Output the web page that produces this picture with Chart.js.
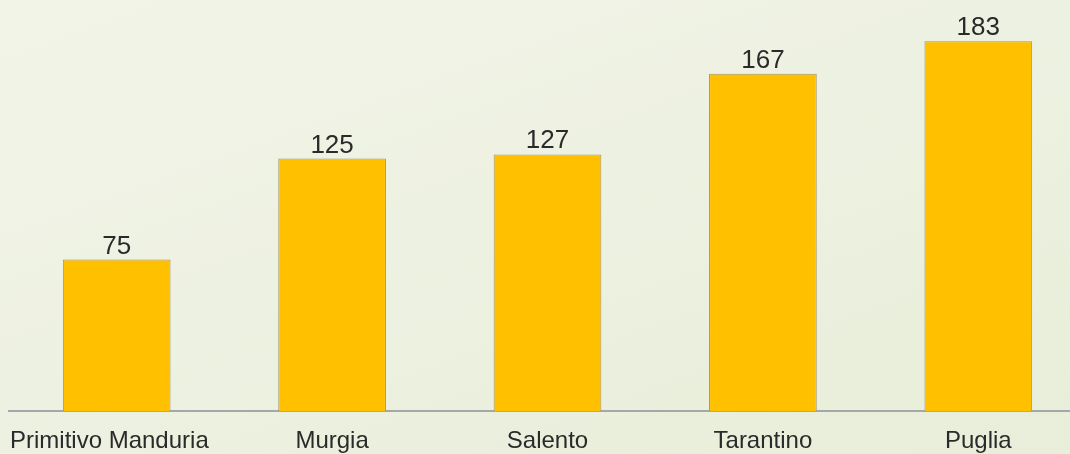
<!DOCTYPE html>
<html>
<head>
<meta charset="utf-8">
<script src="https://cdn.jsdelivr.net/npm/chart.js@4"></script>
<style>
    html, body { margin: 0; padding: 0; overflow: hidden; }
    body {
        width: 1070px; height: 454px;
        background: linear-gradient(160deg, #f2f4e8 0%, #edf1e1 50%, #e8eed9 100%);
    }
    #wrap { position: relative; width: 1086px; height: 454px; }
</style>
</head>
<body>
<div id="wrap"><canvas id="barChart" width="1086" height="454"></canvas></div>
<script>
const categorie = ['Primitivo Manduria', 'Murgia', 'Salento', 'Tarantino', 'Puglia'];
const valori = [75, 125, 127, 167, 183];

const FONT = '"Liberation Sans", Arial, sans-serif';

// valori sopra le barre + etichette categorie (la prima parte dal bordo sinistro)
const etichette = {
    id: 'etichette',
    afterDatasetsDraw(chart) {
        const c = chart.ctx;
        const meta = chart.getDatasetMeta(0);
        const xs = chart.scales.x;
        c.save();
        c.fillStyle = '#2a2a2a';
        c.textAlign = 'center';
        c.textBaseline = 'alphabetic';
        c.font = '26px ' + FONT;
        meta.data.forEach((bar, i) => {
            c.fillText(valori[i], bar.x, bar.y - 6);
        });
        c.font = '24px ' + FONT;
        categorie.forEach((lab, i) => {
            const w = c.measureText(lab).width;
            let x = xs.getPixelForValue(i);
            if (i === 0) x = xs.left + 1 + w / 2;
            c.fillText(lab, x, xs.top + 37);
        });
        c.restore();
    }
};

document.addEventListener('DOMContentLoaded', () => {
    const ctx = document.getElementById('barChart');
    new Chart(ctx, {
        type: 'bar',
        data: {
            labels: categorie,
            datasets: [{
                data: valori,
                backgroundColor: '#ffc000',
                borderColor: '#a3946a',
                borderWidth: 1,
                borderSkipped: 'bottom',
                categoryPercentage: 1,
                barPercentage: 0.5
            }]
        },
        options: {
            responsive: false,
            animation: false,
            devicePixelRatio: 1,
            layout: { padding: { left: 9, right: 0, top: 7, bottom: 35 } },
            plugins: {
                legend: { display: false },
                tooltip: { enabled: false }
            },
            scales: {
                y: { display: false, min: 0, max: 200 },
                x: {
                    grid: { display: false },
                    border: { display: true, color: '#a4a8aa', width: 2 },
                    ticks: { display: false }
                }
            }
        },
        plugins: [etichette]
    });
});
</script>
</body>
</html>
